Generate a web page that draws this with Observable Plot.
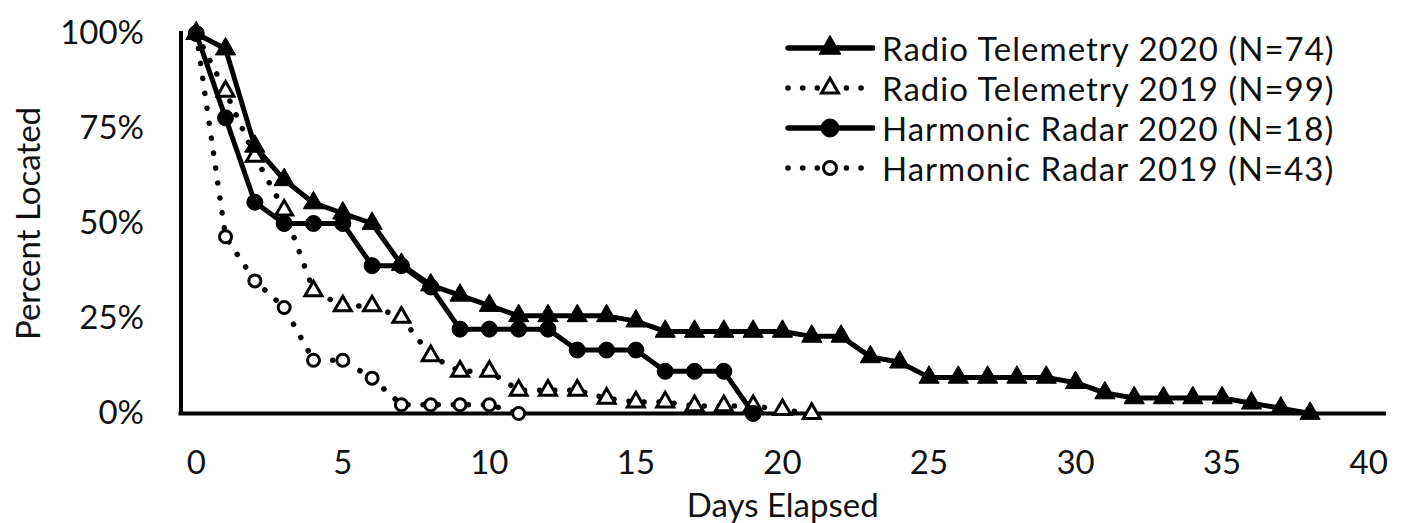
<!DOCTYPE html>
<html><head><meta charset="utf-8">
<script src="https://cdn.jsdelivr.net/npm/d3@7"></script>
<script src="https://cdn.jsdelivr.net/npm/@observablehq/plot@0.6"></script>
<style>
body{margin:0;background:#fff;}
#wrap{position:relative;width:1406px;height:523px;font-family:Lato, sans-serif;}
#legend{position:absolute;left:785px;top:28px;}
.row{display:flex;align-items:center;height:40px;}
.row svg{display:block;}
.row span{font-size:33px;letter-spacing:1px;color:#111;white-space:nowrap;margin-left:7px;line-height:1;}
</style></head><body><div id="wrap"><div id="legend"></div></div>
<script>
// ---- data ----
const seriesNames = ["Radio Telemetry 2020 (N=74)", "Radio Telemetry 2019 (N=99)", "Harmonic Radar 2020 (N=18)", "Harmonic Radar 2019 (N=43)"];

const rt2020Days = [0,1,2,3,4,5,6,7,8,9,10,11,12,13,14,15,16,17,18,19,20,21,22,23,24,25,26,27,28,29,30,31,32,33,34,35,36,37,38];
const rt2020Pct  = [100,95.9,70.3,61.5,55.4,52.7,50.0,39.2,33.8,31.1,28.4,25.7,25.7,25.7,25.7,24.3,21.6,21.6,21.6,21.6,21.6,20.3,20.3,14.9,13.5,9.5,9.5,9.5,9.5,9.5,8.1,5.4,4.1,4.1,4.1,4.1,2.7,1.4,0];

const rt2019Days = [0,1,2,3,4,5,6,7,8,9,10,11,12,13,14,15,16,17,18,19,20,21];
const rt2019Pct  = [100,84.8,67.7,53.5,32.3,28.3,28.3,25.3,15.2,11.1,11.1,6.1,6.1,6.1,4.0,3.0,3.0,2.0,2.0,2.0,1.0,0];

const hr2020Days = [0,1,2,3,4,5,6,7,8,9,10,11,12,13,14,15,16,17,18,19];
const hr2020Pct  = [100,77.8,55.6,50,50,50,38.9,38.9,33.3,22.2,22.2,22.2,22.2,16.7,16.7,16.7,11.1,11.1,11.1,0];

const hr2019Days = [0,1,2,3,4,5,6,7,8,9,10,11];
const hr2019Pct  = [100,46.5,34.9,27.9,14.0,14.0,9.3,2.3,2.3,2.3,2.3,0];

const xTicks = [0,5,10,15,20,25,30,35,40];
const yTicks = [0,0.25,0.5,0.75,1];
const xDomain = [-0.52, 40.54];
const xTitle = ["Days Elapsed"];
const yTitle = ["Percent Located"];

// ---- styles ----
const styles = {
  "Radio Telemetry 2020 (N=74)": {dash: null, symbol: "triangle", r: 7.5, fill: "black", sw: 1, lr: 8},
  "Radio Telemetry 2019 (N=99)": {dash: "0.1 15", symbol: "triangle", r: 6.3, fill: "white", sw: 3, lr: 6.3},
  "Harmonic Radar 2020 (N=18)": {dash: null, symbol: "circle", r: 8, fill: "black", sw: 1, lr: 9},
  "Harmonic Radar 2019 (N=43)": {dash: "0.1 15", symbol: "circle", r: 6, fill: "white", sw: 3, lr: 6.5}
};

const seriesData = {
  "Radio Telemetry 2020 (N=74)": rt2020Days.map((d,i)=>({day:d, pct:rt2020Pct[i]/100})),
  "Radio Telemetry 2019 (N=99)": rt2019Days.map((d,i)=>({day:d, pct:rt2019Pct[i]/100})),
  "Harmonic Radar 2020 (N=18)": hr2020Days.map((d,i)=>({day:d, pct:hr2020Pct[i]/100})),
  "Harmonic Radar 2019 (N=43)": hr2019Days.map((d,i)=>({day:d, pct:hr2019Pct[i]/100}))
};

const drawOrder = [seriesNames[3], seriesNames[1], seriesNames[2], seriesNames[0]];
const seriesMarks = drawOrder.flatMap(name => {
  const s = styles[name], data = seriesData[name];
  return [
    Plot.line(data, {x:"day", y:"pct", stroke:"black", strokeWidth: s.dash ? 5.5 : 5,
      strokeDasharray: s.dash || undefined, strokeLinecap: s.dash ? "round" : "butt", strokeLinejoin:"round"}),
    Plot.dot(data, {x:"day", y:"pct", symbol: s.symbol, r: s.r, fill: s.fill, stroke:"black", strokeWidth: s.sw})
  ];
});

const chart = Plot.plot({
  width: 1406, height: 523,
  marginLeft: 180.5, marginRight: 22, marginTop: 33, marginBottom: 110,
  style: {fontFamily: "Lato, sans-serif", fontSize: "33px", color: "#111", background: "white"},
  x: {domain: xDomain},
  y: {domain: [0, 1]},
  marks: [
    Plot.axisX({ticks: xTicks, tickSize: 0, tickPadding: 37, tickFormat: d3.format("d"), label: null, fontSize: 33}),
    Plot.axisY({ticks: yTicks, tickSize: 0, tickPadding: 37, tickFormat: d3.format(".0%"), label: null, fontSize: 33}),
    Plot.text(xTitle, {text: d => d, frameAnchor: "bottom", lineAnchor: "middle", textAnchor: "middle", dy: 93, fontSize: 33, fill: "#111"}),
    Plot.text(yTitle, {text: d => d, frameAnchor: "left", lineAnchor: "middle", textAnchor: "middle", dx: -152, rotate: -90, fontSize: 33, fill: "#111"}),
    Plot.ruleY([0], {stroke: "black", strokeWidth: 4, strokeLinecap: "square"}),
    Plot.ruleX([xDomain[0]], {stroke: "black", strokeWidth: 4, strokeLinecap: "square"}),
    ...seriesMarks
  ]
});
document.getElementById("wrap").prepend(chart);

// ---- legend ----
const legend = d3.select("#legend");
seriesNames.forEach(name => {
  const s = styles[name];
  const row = legend.append("div").attr("class", "row");
  const svg = row.append("svg").attr("width", 90).attr("height", 38);
  svg.append("line").attr("x1", 3).attr("x2", 88).attr("y1", 19).attr("y2", 19)
    .attr("stroke", "black").attr("stroke-width", 5.5)
    .attr("stroke-dasharray", s.dash ? "0.1 14.5" : null)
    .attr("stroke-linecap", "round");
  const sym = s.symbol === "triangle" ? d3.symbolTriangle : d3.symbolCircle;
  svg.append("path").attr("transform", "translate(45,19)")
    .attr("d", d3.symbol(sym, Math.PI * s.lr * s.lr)())
    .attr("fill", s.fill).attr("stroke", "black").attr("stroke-width", s.sw);
  row.append("span").text(name);
});
</script>
</body></html>
